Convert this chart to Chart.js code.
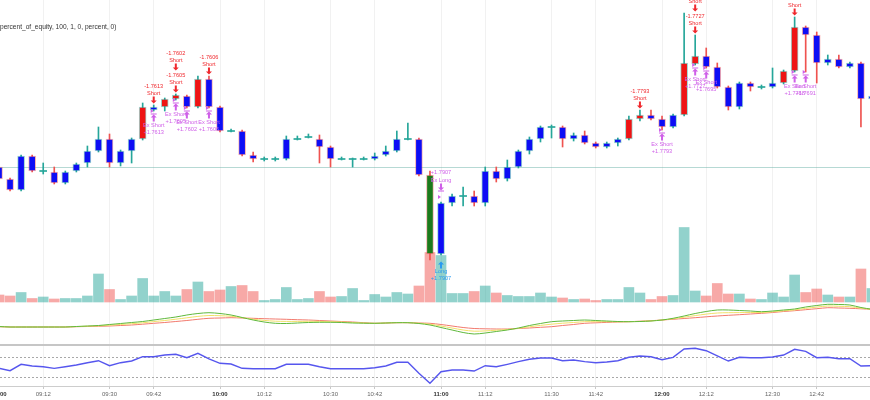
<!DOCTYPE html>
<html>
<head>
<meta charset="utf-8">
<script src="https://cdn.jsdelivr.net/npm/chart.js@4.4.1/dist/chart.umd.min.js"></script>
<style>
  html, body { margin: 0; padding: 0; background: #fff; overflow: hidden; }
  canvas { display: block; }
</style>
</head>
<body>
<canvas id="chart" width="870" height="400"></canvas>
<script>
// 3-minute bars, bar 0 = 09:00
const tickBars   = [0, 4, 10, 14, 20, 24, 30, 34, 40, 44, 50, 54, 60, 64, 70, 74];
const tickLabels = ['09:00', '09:12', '09:30', '09:42', '10:00', '10:12', '10:30', '10:42',
                    '11:00', '11:12', '11:30', '11:42', '12:00', '12:12', '12:30', '12:42'];

const opens = [
  1.7800, 1.7788, 1.7777, 1.7811, 1.7796, 1.7795, 1.7784, 1.7796, 1.7804, 1.7816,
  1.7828, 1.7804, 1.7816, 1.7828, 1.7857, 1.7860, 1.7868, 1.7871, 1.7860, 1.7888,
  1.7860, 1.7836, 1.7836, 1.7812, 1.7808, 1.7808, 1.7808, 1.7828, 1.7830, 1.7828,
  1.7820, 1.7808, 1.7808, 1.7808, 1.7808, 1.7812, 1.7816, 1.7828, 1.7828, 1.7792,
  1.7713, 1.7764, 1.7771, 1.7771, 1.7764, 1.7796, 1.7788, 1.7800, 1.7816, 1.7828,
  1.7840, 1.7840, 1.7828, 1.7832, 1.7824, 1.7820, 1.7824, 1.7828, 1.7848, 1.7852,
  1.7848, 1.7840, 1.7852, 1.7903, 1.7911, 1.7900, 1.7880, 1.7860, 1.7884, 1.7880,
  1.7880, 1.7884, 1.7896, 1.7940, 1.7932, 1.7904, 1.7908, 1.7900, 1.7904, 1.7868
];
const highs = [
  1.7802, 1.7789, 1.7812, 1.7812, 1.7804, 1.7800, 1.7796, 1.7804, 1.7821, 1.7840,
  1.7833, 1.7817, 1.7829, 1.7864, 1.7862, 1.7869, 1.7873, 1.7872, 1.7891, 1.7891,
  1.7861, 1.7838, 1.7837, 1.7815, 1.7810, 1.7810, 1.7831, 1.7831, 1.7833, 1.7832,
  1.7821, 1.7810, 1.7809, 1.7810, 1.7814, 1.7821, 1.7836, 1.7844, 1.7829, 1.7796,
  1.7765, 1.7773, 1.7780, 1.7776, 1.7800, 1.7800, 1.7807, 1.7817, 1.7830, 1.7841,
  1.7842, 1.7841, 1.7834, 1.7836, 1.7825, 1.7825, 1.7829, 1.7851, 1.7857, 1.7857,
  1.7851, 1.7853, 1.7954, 1.7932, 1.7919, 1.7904, 1.7881, 1.7885, 1.7885, 1.7882,
  1.7899, 1.7897, 1.7950, 1.7941, 1.7935, 1.7912, 1.7912, 1.7905, 1.7905, 1.7874
];
const lows = [
  1.7787, 1.7776, 1.7776, 1.7795, 1.7793, 1.7783, 1.7783, 1.7795, 1.7800, 1.7815,
  1.7800, 1.7801, 1.7804, 1.7827, 1.7856, 1.7856, 1.7867, 1.7859, 1.7859, 1.7859,
  1.7835, 1.7835, 1.7811, 1.7805, 1.7806, 1.7806, 1.7807, 1.7827, 1.7829, 1.7804,
  1.7800, 1.7807, 1.7800, 1.7807, 1.7807, 1.7811, 1.7815, 1.7827, 1.7791, 1.7707,
  1.7712, 1.7761, 1.7761, 1.7761, 1.7761, 1.7785, 1.7786, 1.7799, 1.7813, 1.7825,
  1.7829, 1.7820, 1.7826, 1.7823, 1.7819, 1.7819, 1.7821, 1.7827, 1.7846, 1.7847,
  1.7837, 1.7839, 1.7851, 1.7902, 1.7899, 1.7879, 1.7857, 1.7858, 1.7876, 1.7878,
  1.7879, 1.7883, 1.7895, 1.7895, 1.7884, 1.7902, 1.7899, 1.7899, 1.7840, 1.7867
];
const closes = [
  1.7788, 1.7777, 1.7811, 1.7796, 1.7796, 1.7784, 1.7795, 1.7803, 1.7816, 1.7828,
  1.7804, 1.7816, 1.7828, 1.7860, 1.7860, 1.7868, 1.7872, 1.7860, 1.7888, 1.7860,
  1.7836, 1.7836, 1.7812, 1.7808, 1.7808, 1.7808, 1.7828, 1.7828, 1.7830, 1.7820,
  1.7808, 1.7808, 1.7808, 1.7808, 1.7811, 1.7816, 1.7828, 1.7828, 1.7792, 1.7713,
  1.7764, 1.7771, 1.7771, 1.7764, 1.7796, 1.7788, 1.7800, 1.7816, 1.7828, 1.7840,
  1.7840, 1.7828, 1.7832, 1.7824, 1.7820, 1.7824, 1.7828, 1.7848, 1.7852, 1.7848,
  1.7840, 1.7852, 1.7904, 1.7911, 1.7900, 1.7880, 1.7860, 1.7884, 1.7880, 1.7880,
  1.7884, 1.7896, 1.7940, 1.7932, 1.7904, 1.7908, 1.7900, 1.7904, 1.7868, 1.7871
];
// bars painted by the strategy (everything else is blue)
const redBars   = [13, 15, 16, 18, 57, 58, 62, 63, 71, 72];
const greenBars = [39];

const volumes = [
  700, 600, 950, 350, 500, 300, 350, 350, 600, 2800,
  1250, 250, 600, 2350, 600, 1050, 600, 1250, 2000, 1050,
  1200, 1550, 1650, 1050, 150, 250, 1450, 250, 350, 1050,
  500, 550, 1350, 150, 750, 500, 950, 800, 1600, 4950,
  4650, 850, 850, 1050, 1600, 900, 650, 550, 550, 900,
  500, 400, 250, 300, 150, 250, 250, 1450, 900, 250,
  550, 650, 7450, 1100, 600, 1850, 800, 800, 300, 250,
  900, 500, 2700, 950, 1300, 700, 500, 500, 3300, 1350
];

// middle pane: three moving averages
const maFast = [
  18.5, 18, 18, 18, 18, 18, 18, 18.5, 19, 19.5,
  20.5, 21.5, 22.5, 23.5, 25, 26.5, 28, 30, 31.5, 32.3,
  31.5, 30, 27.5, 25, 23, 21.7, 21.5, 22, 22.5, 22.7,
  22.7, 22.5, 22, 21.8, 21.7, 22, 22.3, 22.3, 21.5, 20,
  17.5, 15, 12.5, 11, 12, 13.5, 15, 17, 19.5, 21.5,
  23.3, 24, 24.5, 25, 24.5, 24, 23.5, 23.3, 23.5, 24,
  25, 26.7, 29, 31.5, 33.5, 35, 35, 34.5, 34, 33.3,
  34, 35, 36, 38, 39.5, 40.7, 40.5, 40, 37.5, 35.7
];
const maMid = [
  18.4, 18, 18, 18, 18, 18, 18, 18.4, 18.8, 19.1,
  19.8, 20.5, 21.3, 22.2, 23.4, 24.5, 25.8, 27.2, 28.6, 29.5,
  29.3, 28.7, 27.3, 25.8, 24.6, 23.8, 23.6, 23.6, 23.7, 23.6,
  23.3, 23, 22.5, 22, 21.7, 22, 22.3, 22.3, 21.8, 20.8,
  19, 17, 15, 13.8, 14.1, 14.8, 15.5, 16.7, 18.2, 19.6,
  20.8, 21.8, 22.5, 23.3, 23.3, 23.3, 23.2, 23.3, 23.6, 24.1,
  25, 26.2, 27.8, 29.4, 30.9, 32, 32.3, 32.4, 32.5, 32.5,
  33.2, 34.2, 35.1, 36.6, 37.9, 39, 38.7, 38.3, 36.8, 35.7
];
const maSlow = [
  18.3, 18, 18, 18, 18, 18, 18, 18.3, 18.5, 18.7,
  19, 19.5, 20, 20.8, 21.7, 22.5, 23.5, 24.5, 25.7, 26.7,
  27, 27.3, 27, 26.7, 26.3, 26, 25.7, 25.3, 25, 24.5,
  24, 23.5, 23, 22.3, 21.7, 22, 22.3, 22.3, 22, 21.7,
  20.5, 19, 17.5, 16.5, 16.2, 16, 16, 16.5, 17, 17.7,
  18.3, 19.5, 20.5, 21.7, 22.2, 22.6, 23, 23.3, 23.8, 24.3,
  25, 25.7, 26.5, 27.3, 28.2, 29, 29.7, 30.3, 31, 31.7,
  32.5, 33.5, 34.3, 35.3, 36.3, 37.3, 37, 36.7, 36.2, 35.7
];

// bottom pane: RSI with 70 / 30 bands
const rsi = [
  47.1, 42.4, 55, 51.7, 50.3, 47.1, 50.3, 53.6, 58.2, 62.1,
  52.3, 58.2, 61.5, 70, 70, 73.3, 74.7, 68, 76.7, 65.5,
  57, 55.6, 47.1, 46.4, 46.4, 46.4, 55, 55, 55, 50.3,
  46.4, 46.4, 46.4, 46.4, 48.3, 51.7, 59, 59, 37.3, 17.6,
  40.4, 43.8, 43.8, 41.8, 52.3, 50.3, 55, 60.2, 64.9, 67.4,
  67.4, 62.1, 63.5, 60.2, 58.2, 59.6, 62.1, 68.8, 71.4, 70,
  64.1, 68.8, 85.2, 86.5, 81.8, 71.4, 61.5, 68.8, 68, 68,
  69.4, 73.3, 84.6, 80.6, 68, 68.8, 66.1, 66.1, 51.7, 52.3
];
const rsiBands = [70, 30];
const refPrice = 1.7800;

// strategy order labels
const shortBars    = [14, 16, 16, 19, 58, 63, 63, 72];
const shortTexts   = ['-1.7613', '-1.7605', '-1.7602', '-1.7606', '-1.7793', '-1.7727', '-1.7691', '-1.7768'];
const exShortBars  = [14, 16, 17, 19, 60, 63, 64, 72, 73];
const exShortTexts = ['+1.7613', '+1.7605', '+1.7602', '+1.7606', '+1.7793', '+1.7727', '+1.7695', '+1.7768', '+1.7691'];
const longBars     = [40];
const longTexts    = ['+1.7907'];
const exLongBars   = [40];
const exLongTexts  = ['+1.7907'];

const headerText = 'percent_of_equity, 100, 1, 0, percent, 0)';

const UP = '#26a69a', DOWN = '#ef5350';
const FONT = '"Liberation Sans", Arial, sans-serif';

const idx = opens.map((_, i) => i);
const isUp = idx.map(i => closes[i] >= opens[i]);
const isDoji = idx.map(i => Math.abs(closes[i] - opens[i]) < 0.00005);
const bodyFill = idx.map(i => {
  if (isDoji[i]) return isUp[i] ? UP : DOWN;
  if (redBars.includes(i)) return '#ee1414';
  if (greenBars.includes(i)) return '#1c7a1c';
  return '#0d0df5';
});

function arrow(ctx, x, y, dir, color) {
  // dir 1 = pointing down, -1 = pointing up; y is the centre
  ctx.fillStyle = color;
  ctx.beginPath();
  ctx.moveTo(x - 1, y - 3.5 * dir);
  ctx.lineTo(x + 1, y - 3.5 * dir);
  ctx.lineTo(x + 1, y + 0.5 * dir);
  ctx.lineTo(x + 3, y + 0.5 * dir);
  ctx.lineTo(x, y + 3.5 * dir);
  ctx.lineTo(x - 3, y + 0.5 * dir);
  ctx.lineTo(x - 1, y + 0.5 * dir);
  ctx.closePath();
  ctx.fill();
}

const panes = {
  id: 'panes',
  beforeDatasetsDraw(chart) {
    const { ctx, chartArea: a, scales } = chart;
    ctx.save();
    const yRef = Math.round(scales.y.getPixelForValue(refPrice)) + 0.5;
    ctx.strokeStyle = 'rgba(110,180,170,0.5)';
    ctx.lineWidth = 1;
    ctx.beginPath(); ctx.moveTo(a.left, yRef); ctx.lineTo(a.right, yRef); ctx.stroke();

    const ySep = scales.m.getPixelForValue(0);
    ctx.strokeStyle = '#c6c6c6';
    ctx.lineWidth = 2;
    ctx.beginPath(); ctx.moveTo(a.left, ySep); ctx.lineTo(a.right, ySep); ctx.stroke();

    ctx.strokeStyle = '#a8a8a8';
    ctx.lineWidth = 1;
    ctx.setLineDash([2, 2]);
    rsiBands.forEach(v => {
      const yb = Math.round(scales.o.getPixelForValue(v)) + 0.5;
      ctx.beginPath(); ctx.moveTo(a.left, yb); ctx.lineTo(a.right, yb); ctx.stroke();
    });
    ctx.restore();
  },
  afterDatasetsDraw(chart) {
    const { ctx, scales } = chart;
    const xs = scales.x, ys = scales.y;
    ctx.save();
    ctx.textAlign = 'center';
    ctx.textBaseline = 'middle';
    ctx.font = '5.6px ' + FONT;

    const seen = {};
    shortBars.forEach((b, k) => {
      const level = seen[b] || 0;
      seen[b] = level + 1;
      const x = xs.getPixelForValue(b);
      const ay = ys.getPixelForValue(highs[b]) - 5 - level * 22;
      arrow(ctx, x, ay, 1, '#f0282d');
      ctx.fillStyle = '#f0282d';
      ctx.fillText('Short', x, ay - 6.5);
      ctx.fillText(shortTexts[k], x, ay - 13.5);
    });

    const purple = '#cf5fe8';
    exShortBars.forEach((b, k) => {
      const x = xs.getPixelForValue(b);
      const ly = ys.getPixelForValue(lows[b]);
      ctx.fillStyle = purple;
      ctx.beginPath();
      ctx.moveTo(x - 3, ly - 2); ctx.lineTo(x, ly); ctx.lineTo(x - 3, ly + 2);
      ctx.closePath(); ctx.fill();
      const ay = ly + 7;
      arrow(ctx, x, ay, -1, purple);
      ctx.fillRect(x - 3, ay - 4.5, 6, 1);
      ctx.fillStyle = purple;
      ctx.fillText('Ex Short', x, ay + 7);
      ctx.fillText(exShortTexts[k], x, ay + 14.5);
    });

    longBars.forEach((b, k) => {
      const x = xs.getPixelForValue(b);
      const ay = ys.getPixelForValue(lows[b]) + 10;
      arrow(ctx, x, ay, -1, '#2a9bf0');
      ctx.fillStyle = '#2a9bf0';
      ctx.fillText('Long', x, ay + 6.5);
      ctx.fillText(longTexts[k], x, ay + 13.5);
    });

    exLongBars.forEach((b, k) => {
      const x = xs.getPixelForValue(b);
      const hy = ys.getPixelForValue(highs[b]);
      const ay = hy - 15;
      ctx.fillStyle = purple;
      ctx.beginPath();
      ctx.moveTo(x - 3, hy - 7); ctx.lineTo(x, hy - 5); ctx.lineTo(x - 3, hy - 3);
      ctx.closePath(); ctx.fill();
      arrow(ctx, x, ay, 1, purple);
      ctx.fillRect(x - 3, ay + 3.5, 6, 1);
      ctx.fillStyle = purple;
      ctx.fillText('Ex Long', x, ay - 7);
      ctx.fillText(exLongTexts[k], x, ay - 14.5);
    });

    ctx.textAlign = 'left';
    ctx.font = '6.6px ' + FONT;
    ctx.fillStyle = '#333';
    ctx.fillText(headerText, 0, 27);
    ctx.restore();
  }
};

new Chart(document.getElementById('chart'), {
  type: 'bar',
  data: {
    datasets: [
      {
        label: 'Volume', yAxisID: 'v', order: 6,
        data: idx.map(i => ({ x: i, y: volumes[i] })),
        backgroundColor: idx.map(i => isUp[i] ? 'rgba(38,166,154,0.5)' : 'rgba(239,83,80,0.5)'),
        barThickness: 10, grouped: false
      },
      {
        label: 'Wick', yAxisID: 'y', order: 5,
        data: idx.map(i => ({ x: i, y: [lows[i], highs[i]] })),
        backgroundColor: idx.map(i => isUp[i] ? UP : DOWN),
        barThickness: 1, grouped: false
      },
      {
        label: 'Body', yAxisID: 'y', order: 4,
        data: idx.map(i => ({
          x: i,
          y: isDoji[i] ? [opens[i] - 0.00005, opens[i] + 0.00005]
                       : [Math.min(opens[i], closes[i]), Math.max(opens[i], closes[i])]
        })),
        backgroundColor: bodyFill,
        borderColor: idx.map(i => isUp[i] ? 'rgba(38,166,154,0.45)' : 'rgba(239,83,80,0.45)'),
        borderWidth: idx.map(i => isDoji[i] ? 0 : 1),
        borderSkipped: false,
        barThickness: 7, grouped: false
      },
      {
        type: 'line', label: 'MA slow', yAxisID: 'm', order: 3,
        data: idx.map(i => ({ x: i, y: maSlow[i] })),
        borderColor: '#f27a6e', borderWidth: 1, pointRadius: 0, tension: 0.3
      },
      {
        type: 'line', label: 'MA mid', yAxisID: 'm', order: 2,
        data: idx.map(i => ({ x: i, y: maMid[i] })),
        borderColor: '#f1e06a', borderWidth: 1, pointRadius: 0, tension: 0.3
      },
      {
        type: 'line', label: 'MA fast', yAxisID: 'm', order: 1,
        data: idx.map(i => ({ x: i, y: maFast[i] })),
        borderColor: '#5fb83c', borderWidth: 1, pointRadius: 0, tension: 0.3
      },
      {
        type: 'line', label: 'RSI', yAxisID: 'o', order: 0,
        data: idx.map(i => ({ x: i, y: rsi[i] })),
        borderColor: '#5656ee', borderWidth: 1.4, pointRadius: 0, tension: 0
      }
    ]
  },
  options: {
    responsive: false,
    animation: false,
    layout: { padding: 0 },
    plugins: { legend: { display: false }, tooltip: { enabled: false } },
    scales: {
      x: {
        type: 'linear', min: 0.09, max: 78.82, offset: false,
        afterBuildTicks: s => { s.ticks = tickBars.map(v => ({ value: v })); },
        afterFit: s => { s.height = 14; s.paddingLeft = 0; s.paddingRight = 0; },
        grid: { color: '#f1f1f1', tickLength: 3, tickColor: '#c8c8c8', offset: false },
        border: { color: '#cdcdcd', width: 1 },
        ticks: {
          autoSkip: false, maxRotation: 0, padding: 2,
          callback: (v, i) => tickLabels[i],
          color: c => tickLabels[c.index] && tickLabels[c.index].endsWith(':00') ? '#333' : '#666',
          font: c => ({ family: FONT, size: 6,
                        weight: tickLabels[c.index] && tickLabels[c.index].endsWith(':00') ? 'bold' : 'normal' })
        }
      },
      y: { display: false, min: 1.7581, max: 1.7967 },
      v: { display: false, min: -8400, max: 30200 },
      m: { display: false, min: -41, max: 345 },
      o: { display: false, min: 12.27, max: 772.86 }
    }
  },
  plugins: [panes]
});
</script>
</body>
</html>
